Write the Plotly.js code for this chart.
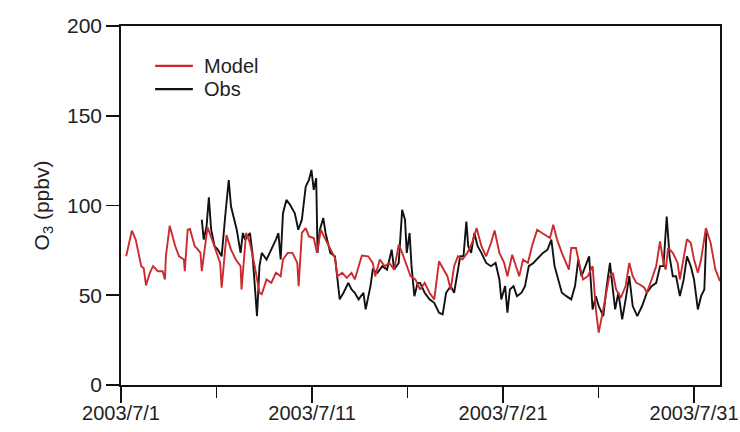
<!DOCTYPE html>
<html>
<head>
<meta charset="utf-8">
<script src="https://cdn.plot.ly/plotly-3.0.1.min.js"></script>
<style>html,body{margin:0;padding:0;background:#fff;}#chart{width:740px;height:432px;}</style>
</head>
<body>
<div id="chart"></div>
<script>
// Days since 2003-07-01 00:00 and ozone (ppbv)
var modelDay = [0.27,0.57,0.77,0.94,1.06,1.19,1.31,1.51,1.68,1.93,2.18,2.30,2.35,2.55,2.84,3.04,3.29,3.34,3.49,3.61,3.86,4.03,4.16,4.23,4.53,4.77,5.02,5.19,5.27,5.52,5.76,6.01,6.26,6.31,6.55,6.75,7.00,7.25,7.37,7.62,7.87,8.11,8.36,8.48,8.73,8.98,9.23,9.30,9.47,9.67,9.84,10.09,10.26,10.46,10.71,10.96,11.20,11.33,11.58,11.82,12.07,12.24,12.44,12.61,12.94,13.18,13.31,13.55,13.80,14.05,14.30,14.54,14.72,14.91,15.16,15.41,15.66,15.90,16.15,16.40,16.65,16.89,17.09,17.26,17.44,17.64,17.88,18.13,18.38,18.62,18.87,19.12,19.37,19.56,19.81,20.06,20.23,20.48,20.65,20.85,21.05,21.30,21.54,21.79,22.04,22.28,22.46,22.63,22.83,23.08,23.32,23.45,23.57,23.82,24.02,24.19,24.44,24.69,24.86,25.01,25.25,25.55,25.75,25.92,26.17,26.42,26.61,26.79,26.98,27.16,27.40,27.53,27.78,28.02,28.22,28.40,28.52,28.64,28.89,29.14,29.26,29.46,29.63,29.83,30.00,30.20,30.37,30.62,30.87,31.12,31.36];
var modelO3 = [71.7,86.0,81,71.7,66.2,65,55.5,62.5,66.2,63.4,63.4,58.8,71.7,88.7,77.3,71.7,69.9,63.4,86.5,86.9,77.3,75.4,73.6,63.4,87.8,81.0,73.6,68,54.2,83.5,75.4,69.9,66.2,53.2,84.7,79.1,66.2,51.4,50.5,58.8,56.9,62.5,60.6,69.9,73.6,73.6,68,55.1,84.7,87.4,82.8,81.9,73.6,86.5,81,75.4,70.8,60.6,62.5,59.7,62.5,58.8,66.2,72.1,71.7,68,60.6,69.9,66.2,68,64.3,78.2,73.6,68,60.6,58.8,53.2,56.9,51.4,47.7,68.9,64.3,60.6,53.2,66.2,71.7,69.9,73.6,79.1,87.4,77.3,71.7,79.1,86.1,73.6,68,60.6,72.6,67.1,60.6,69.9,68,78.2,86.5,84.7,82.8,81.9,89.3,81,73.6,68,64.3,76.3,76.3,66.2,58.8,60.6,66.2,42.1,29.2,42.1,59.7,62.5,53.2,48.6,55.1,68,60.6,56.9,56,54.2,51.4,58.8,66.2,80,68,64.3,76.3,73.6,68,58.8,71.7,81.3,79.1,69.9,62.5,69.9,87.4,79.1,64.3,57.9];

var obsDay = [4.23,4.33,4.48,4.60,4.72,4.90,5.07,5.27,5.47,5.64,5.76,5.89,6.06,6.26,6.38,6.50,6.75,6.88,7.00,7.12,7.25,7.37,7.62,7.87,8.11,8.24,8.36,8.48,8.66,8.85,9.10,9.28,9.47,9.67,9.84,9.97,10.09,10.22,10.29,10.41,10.59,10.71,10.96,11.20,11.33,11.45,11.65,11.90,12.07,12.24,12.44,12.69,12.81,13.06,13.18,13.43,13.68,13.93,14.17,14.30,14.54,14.72,14.87,14.96,15.11,15.21,15.36,15.53,15.66,15.90,16.15,16.40,16.65,16.84,17.02,17.26,17.44,17.59,17.76,17.93,18.08,18.18,18.33,18.50,18.67,18.87,19.12,19.37,19.61,19.81,19.91,20.11,20.23,20.36,20.55,20.73,20.97,21.15,21.35,21.59,21.84,22.09,22.33,22.53,22.70,22.88,23.08,23.32,23.57,23.77,23.94,24.11,24.31,24.51,24.69,24.86,25.01,25.25,25.43,25.60,25.75,25.87,26.04,26.24,26.42,26.61,26.79,27.03,27.28,27.53,27.78,28.02,28.22,28.40,28.57,28.72,28.89,29.06,29.26,29.46,29.63,29.83,30.00,30.20,30.37,30.54,30.65];
var obsO3 = [92.1,81,88.4,104.6,86.5,77.3,75.4,71.7,95.7,114.2,99.4,93.9,86.5,73.6,84.7,81,84.7,73.6,56.9,38.4,66.2,73.6,69.9,75.4,81,84.7,69.9,95.7,103.1,100.4,95.7,86.5,92.1,110.5,114.2,119.8,108.7,115.2,73.6,86.5,93,84.7,73.6,71.7,56.9,47.7,51.4,56.9,53.2,51.4,47.7,51.4,42.1,55.1,64.3,62.5,66.2,64.3,75.4,64.3,68,97.6,92.1,73.6,84.7,66.2,49.5,56.9,56.9,51.4,47.7,45.8,40.3,39.4,51.4,55.1,51.4,60.6,71.7,71.7,91.1,77.3,73.6,84.7,77.3,73.6,68,66.2,68,58.8,47.7,55.1,40.3,53.2,55.1,49.5,51.4,55.1,66.2,68,70.8,73.6,75.4,81,66.2,58.8,51.4,49.5,47.7,55.1,69.9,60.6,66.2,71.7,42.1,49.5,44,38.4,55.1,68,53.2,42.1,51.4,36.6,47.7,60.6,44,38.4,44,51.4,55.1,56.9,66.2,66.2,93.9,71.7,60.6,60.6,49.5,58.8,71.7,66.2,58.8,42.1,49.5,53.2,86];

var seriesNames = ['Model', 'Obs'];
var seriesColors = ['#cc2a2e', '#111111'];
var majorTickDates = ['2003-07-01','2003-07-11','2003-07-21','2003-07-31'];
var majorTickLabels = ['2003/7/1','2003/7/11','2003/7/21','2003/7/31'];
var minorTickDates = ['2003-07-06','2003-07-16','2003-07-26'];
var yTicks = [0,50,100,150,200];

var base = Date.UTC(2003,6,1);
function toDate(d){ return new Date(base + d*86400000).toISOString().slice(0,19).replace('T',' '); }

var font = 'Liberation Sans, Arial, sans-serif';
var traces = [
  {x: obsDay.map(toDate), y: obsO3, name: seriesNames[1], type: 'scatter', mode: 'lines',
   line: {color: seriesColors[1], width: 1.9}, showlegend: false},
  {x: modelDay.map(toDate), y: modelO3, name: seriesNames[0], type: 'scatter', mode: 'lines',
   line: {color: seriesColors[0], width: 1.9}, showlegend: false}
];

// manual legend (line sample + label), in paper coordinates
var legY = [0.889, 0.824];
var shapes = [], annotations = [];
for (var i = 0; i < seriesNames.length; i++) {
  shapes.push({type: 'line', xref: 'paper', yref: 'paper', x0: 0.057, x1: 0.120, y0: legY[i], y1: legY[i],
               line: {color: seriesColors[i], width: 2.2}});
  annotations.push({xref: 'paper', yref: 'paper', x: 0.135, y: legY[i], xanchor: 'left', yanchor: 'middle',
                    text: seriesNames[i], showarrow: false, font: {size: 20, color: '#222'}});
}

var layout = {
  width: 740, height: 432,
  margin: {l: 121, r: 20, t: 26, b: 47},
  paper_bgcolor: '#fff', plot_bgcolor: '#fff',
  font: {family: font, size: 21, color: '#222'},
  showlegend: false,
  shapes: shapes, annotations: annotations,
  xaxis: {type: 'date', range: [toDate(0), toDate(31.36)],
          tickmode: 'array', tickvals: majorTickDates, ticktext: majorTickLabels,
          ticks: 'outside', ticklen: 16, tickwidth: 1.8, tickcolor: '#111',
          ticklabelstandoff: -7, ticklabeloverflow: 'allow',
          minor: {tickmode: 'array', tickvals: minorTickDates, ticks: 'outside', ticklen: 11, tickwidth: 1.8, tickcolor: '#111', showgrid: false},
          showline: true, linecolor: '#111', linewidth: 1.8, mirror: true,
          showgrid: false, zeroline: false, tickfont: {size: 20}},
  yaxis: {range: [0, 200], tickmode: 'array', tickvals: yTicks,
          ticks: 'outside', ticklen: 13, tickwidth: 1.8, tickcolor: '#111',
          showline: true, linecolor: '#111', linewidth: 1.8, mirror: true,
          showgrid: false, zeroline: false, tickfont: {size: 21},
          title: {text: 'O<sub>3</sub> (ppbv)', font: {size: 21}, standoff: 12}}
};
Plotly.newPlot('chart', traces, layout, {staticPlot: true, displayModeBar: false});
</script>
</body>
</html>
